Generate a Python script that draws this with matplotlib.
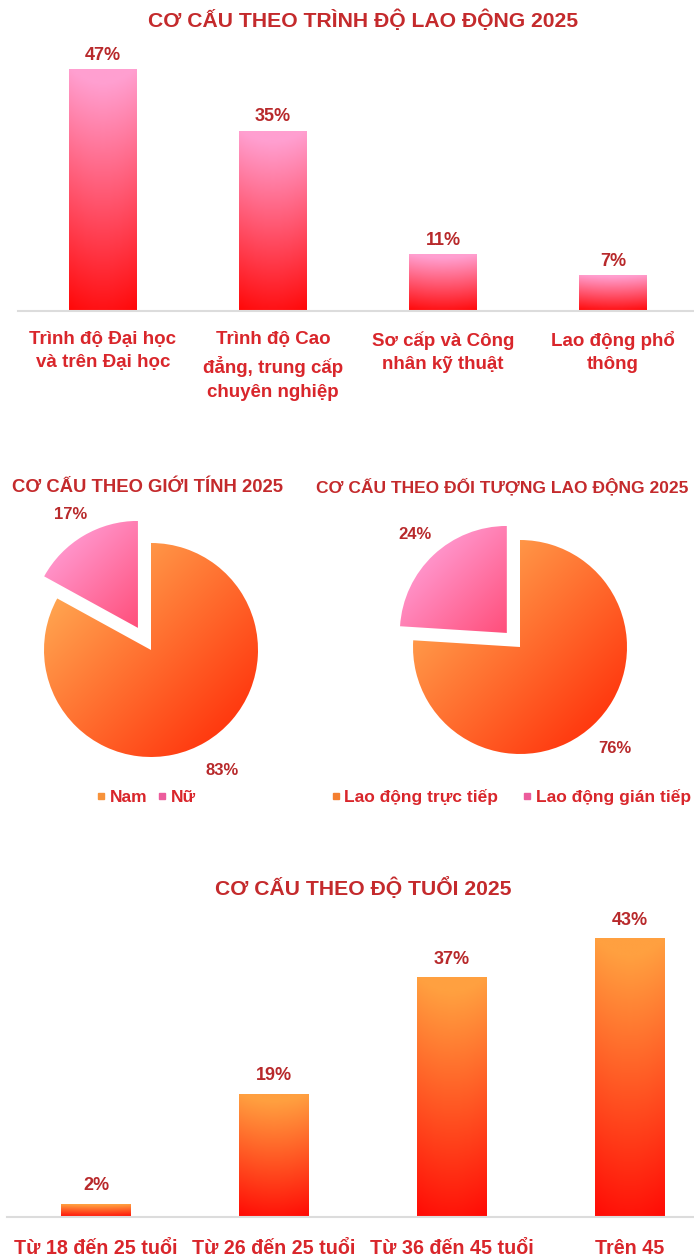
import numpy as np
import matplotlib
matplotlib.use("Agg")
import matplotlib.pyplot as plt
from matplotlib.colors import LinearSegmentedColormap
from matplotlib.lines import Line2D
import matplotlib.transforms as mtrans

# ---------------- data ----------------
edu_categories = ["Trình độ Đại học\nvà trên Đại học",
                  "Trình độ Cao\nđẳng, trung cấp\nchuyên nghiệp",
                  "Sơ cấp và Công\nnhân kỹ thuật",
                  "Lao động phổ\nthông"]
edu_values = [47, 35, 11, 7]

gender_labels = ["Nam", "Nữ"]
gender_values = [83, 17]

worker_labels = ["Lao động trực tiếp", "Lao động gián tiếp"]
worker_values = [76, 24]

age_categories = ["Từ 18 đến 25 tuổi", "Từ 26 đến 25 tuổi",
                  "Từ 36 đến 45 tuổi", "Trên 45"]
age_values = [2, 19, 37, 43]

# ---------------- style ----------------
W, H = 694, 1259
FONT = ["Liberation Sans", "DejaVu Sans"]
TITLE_C = "#c42a2c"
LABEL_C = "#d9262b"
VALUE_C = "#b8292b"
AXIS_C = "#dcdcdc"

fig = plt.figure(figsize=(W / 100, H / 100), dpi=100)
fig.patch.set_facecolor("white")


def box(l, t, r, b):
    return [l / W, 1 - b / H, (r - l) / W, (b - t) / H]


def fx(x):
    return x / W


def fy(y):
    return 1 - y / H


def cmap2(c0, c1):
    return LinearSegmentedColormap.from_list("g", [c0, c1])


def grad_bar(ax, patch, c_top, c_bot):
    x0, y0 = patch.get_xy()
    w, h = patch.get_width(), patch.get_height()
    g = np.linspace(0, 1, 256).reshape(-1, 1)
    xx = np.linspace(-1, 1, 32).reshape(1, -1)
    z = np.clip(g + 0.06 * (1 - xx ** 2), 0, 1)
    im = ax.imshow(z, extent=[x0, x0 + w, y0, y0 + h], origin="lower",
                   aspect="auto", cmap=cmap2(c_bot, c_top), vmin=0, vmax=1,
                   zorder=2, interpolation="bilinear")
    im.set_clip_path(patch)
    patch.set_facecolor("none")
    patch.set_edgecolor("none")


def bar_chart(ax, cats, vals, width, c_top, c_bot, ymax, label_off_pt):
    x = np.arange(len(cats))
    bars = ax.bar(x, vals, width=width, zorder=2)
    for b in bars:
        grad_bar(ax, b, c_top, c_bot)
    for xi, v in zip(x, vals):
        ax.annotate(f"{v}%", (xi, v), xytext=(0, label_off_pt),
                    textcoords="offset points", ha="center", va="center",
                    fontsize=13, fontweight="bold", color=VALUE_C,
                    family=FONT)
    ax.set_xlim(-0.5, len(cats) - 0.5)
    ax.set_ylim(0, ymax)
    for s in ["top", "right", "left"]:
        ax.spines[s].set_visible(False)
    ax.spines["bottom"].set_color(AXIS_C)
    ax.spines["bottom"].set_linewidth(1.5)
    ax.set_yticks([])
    ax.set_xticks([])
    ax.patch.set_alpha(0)
    return x


# ---------------- top bar chart ----------------
fig.text(fx(363), fy(20), "CƠ CẤU THEO TRÌNH ĐỘ LAO ĐỘNG 2025", ha="center",
         va="center", fontsize=15.2, fontweight="bold", color=TITLE_C,
         family=FONT)
ax1 = fig.add_axes(box(18, 40, 698, 311))
x1 = bar_chart(ax1, edu_categories, edu_values, 0.40, "#ff9fd0", "#ff0808",
               (311 - 40) / 5.15, 10)
tr1 = mtrans.blended_transform_factory(ax1.transData, fig.transFigure)
for xi, c in zip(x1, edu_categories):
    ax1.text(xi, fy(331), c, transform=tr1, ha="center", va="top",
             fontsize=13.5, fontweight="bold", color=LABEL_C, family=FONT,
             linespacing=1.5, clip_on=False)


# ---------------- pies ----------------
def pie_chart(cx, cy, r, vals, labels, explode, c_big, c_small, title,
              title_x, title_ha, title_size, leg_x, leg_colors, colspace,
              dists):
    half = 150
    ax = fig.add_axes(box(cx - half, cy - half, cx + half, cy + half))
    wedges, _ = ax.pie(vals, startangle=90, counterclock=False,
                       explode=explode, radius=1)
    lim = half / r
    n = 300
    u = np.linspace(0, 1, n)
    U, V = np.meshgrid(u, u)
    for i, (wdg, cols) in enumerate(zip(wedges, [c_big, c_small])):
        wcx, wcy = wdg.center
        t = ((1 - U) + V) / 2  # light at upper-left
        im = ax.imshow(t, extent=[wcx - 1, wcx + 1, wcy - 1, wcy + 1],
                       origin="lower", cmap=cmap2(cols[1], cols[0]),
                       vmin=0.15, vmax=0.85, zorder=2,
                       interpolation="bilinear")
        im.set_clip_path(wdg)
        wdg.set_facecolor("none")
        wdg.set_edgecolor("none")
        ang = np.deg2rad((wdg.theta1 + wdg.theta2) / 2)
        d = dists[i]
        ax.text(d * np.cos(ang), d * np.sin(ang), f"{vals[i]}%",
                ha="center", va="center", fontsize=12, fontweight="bold",
                color=VALUE_C, family=FONT, zorder=3)
    ax.set_xlim(-lim, lim)
    ax.set_ylim(-lim, lim)
    ax.set_aspect("auto")
    ax.axis("off")
    fig.text(fx(title_x), fy(487), title, ha=title_ha, va="center",
             fontsize=title_size, fontweight="bold", color=TITLE_C,
             family=FONT)
    handles = [Line2D([], [], marker="s", ls="", markersize=5,
                      color=c) for c in leg_colors]
    leg = fig.legend(handles, labels, ncol=2, loc="center",
                     bbox_to_anchor=(fx(leg_x), fy(797)), frameon=False,
                     handlelength=0.5, handletextpad=0.25,
                     columnspacing=colspace,
                     prop=dict(family=FONT, weight="bold", size=12.5))
    for txt in leg.get_texts():
        txt.set_color(LABEL_C)


pie_chart(151, 650, 107, gender_values, gender_labels, [0, 0.24],
          ("#ffa550", "#ff3a10"), ("#ff92c8", "#ff0a2c"),
          "CƠ CẤU THEO GIỚI TÍNH 2025", 148, "center", 13.3, 146,
          ["#f7923a", "#ec5c9c"], 0.6, [1.31, 1.47])
pie_chart(520, 647, 107, worker_values, worker_labels, [0, 0.18],
          ("#ffa550", "#ff3a10"), ("#ff92c8", "#ff0a2c"),
          "CƠ CẤU THEO ĐỐI TƯỢNG LAO ĐỘNG 2025", 316, "left", 12.5, 511,
          ["#f47f30", "#ec5c9c"], 1.4, [1.30, 1.44])

# ---------------- bottom bar chart ----------------
fig.text(fx(363), fy(888), "CƠ CẤU THEO ĐỘ TUỔI 2025", ha="center",
         va="center", fontsize=15.2, fontweight="bold", color=TITLE_C,
         family=FONT)
ax2 = fig.add_axes(box(7, 900, 719, 1217))
x2 = bar_chart(ax2, age_categories, age_values, 0.39, "#ffa040", "#ff0a05",
               (1217 - 900) / 6.48, 13)
tr2 = mtrans.blended_transform_factory(ax2.transData, fig.transFigure)
for xi, c in zip(x2, age_categories):
    ax2.text(xi, fy(1249), c, transform=tr2, ha="center", va="center",
             fontsize=14.2, fontweight="bold", color=LABEL_C, family=FONT,
             clip_on=False)

fig.savefig("out.png", dpi=100, facecolor="white")
